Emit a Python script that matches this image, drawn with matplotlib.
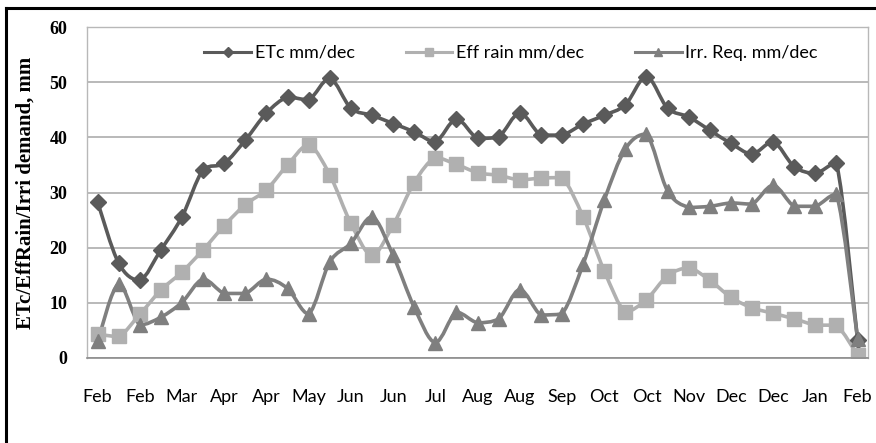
import matplotlib
matplotlib.use("Agg")
import matplotlib.pyplot as plt
from matplotlib.path import Path
from matplotlib.patches import PathPatch
from matplotlib.lines import Line2D

# decade labels, Feb (1st decade) to Feb of next year
months = ["Feb", "Feb", "Feb", "Mar", "Mar", "Mar", "Apr", "Apr", "Apr",
          "May", "May", "May", "Jun", "Jun", "Jun", "Jul", "Jul", "Jul",
          "Aug", "Aug", "Aug", "Sep", "Sep", "Sep", "Oct", "Oct", "Oct",
          "Nov", "Nov", "Nov", "Dec", "Dec", "Dec", "Jan", "Jan", "Jan", "Feb"]

etc = [28.3, 17.2, 14.1, 19.6, 25.6, 34.1, 35.3, 39.5, 44.4, 47.3,
       46.8, 50.7, 45.3, 44.0, 42.5, 41.0, 39.2, 43.3, 39.8, 40.1,
       44.4, 40.4, 40.4, 42.4, 44.0, 45.9, 51.0, 45.3, 43.7, 41.3,
       38.9, 37.0, 39.2, 34.7, 33.5, 35.3, 3.3]
eff_rain = [4.3, 3.9, 7.9, 12.3, 15.6, 19.6, 24.0, 27.8, 30.5, 35.0,
            38.6, 33.2, 24.4, 18.7, 24.1, 31.8, 36.3, 35.1, 33.6, 33.1,
            32.3, 32.6, 32.7, 25.6, 15.8, 8.4, 10.6, 14.9, 16.3, 14.1,
            11.0, 9.1, 8.1, 7.1, 6.0, 5.9, 0.5]
irr_req = [3.0, 13.4, 6.0, 7.4, 10.1, 14.3, 11.7, 11.7, 14.3, 12.6,
           8.0, 17.4, 20.8, 25.6, 18.6, 9.2, 2.8, 8.3, 6.4, 7.1,
           12.4, 7.8, 8.0, 17.0, 28.6, 37.9, 40.6, 30.3, 27.3, 27.5,
           28.1, 27.9, 31.3, 27.5, 27.5, 29.7, 3.5]


def smooth_path(x, y):
    # smoothed line like excel: bezier through every point,
    # control points kept inside the segment so it does not overshoot
    pts = list(zip(x, y))
    n = len(pts)
    verts = [pts[0]]
    codes = [Path.MOVETO]
    for i in range(n - 1):
        p0 = pts[i - 1] if i > 0 else pts[i]
        p1 = pts[i]
        p2 = pts[i + 1]
        p3 = pts[i + 2] if i + 2 < n else pts[i + 1]
        lo, hi = min(p1[1], p2[1]), max(p1[1], p2[1])
        c1y = min(max(p1[1] + (p2[1] - p0[1]) / 6, lo), hi)
        c2y = min(max(p2[1] - (p3[1] - p1[1]) / 6, lo), hi)
        c1 = (p1[0] + (p2[0] - p0[0]) / 6, c1y)
        c2 = (p2[0] - (p3[0] - p1[0]) / 6, c2y)
        verts += [c1, c2, p2]
        codes += [Path.CURVE4] * 3
    return Path(verts, codes)


sans = ["Lato", "Open Sans", "DejaVu Sans"]
serif = ["Liberation Serif", "DejaVu Serif"]

fig = plt.figure(figsize=(8.76, 4.43), dpi=100)
ax = fig.add_axes([0.0993, 0.1919, 0.8917, 0.7471])

x = list(range(len(months)))
series = [
    (etc, "ETc mm/dec", "#5a5a5a", "D", 8),
    (eff_rain, "Eff rain mm/dec", "#b0b0b0", "s", 10),
    (irr_req, "Irr. Req. mm/dec", "#7f7f7f", "^", 10),
]
handles = []
for vals, name, col, mk, ms in series:
    ax.add_patch(PathPatch(smooth_path(x, vals), facecolor="none",
                           edgecolor=col, lw=2.6, capstyle="round",
                           joinstyle="round"))
    ax.plot(x, vals, ls="none", marker=mk, ms=ms, color=col, mec=col)
    handles.append(Line2D([], [], color=col, lw=2.2, marker=mk,
                          ms=ms * 0.6, mec=col, label=name))

ax.set_xlim(-0.5, len(months) - 0.5)
ax.set_ylim(0, 60)
yt = list(range(0, 61, 10))
ax.set_yticks(yt)
ax.set_yticklabels([str(v) for v in yt], family=serif,
                   fontweight="bold", fontsize=13)
ax.set_xticks(x[::2])
ax.set_xticklabels(months[::2], family=sans, fontsize=13)
ax.tick_params(axis="both", length=0)
ax.tick_params(axis="y", pad=14)
ax.tick_params(axis="x", pad=22)

ax.grid(axis="y", color="#a6a6a6", lw=1.1)
ax.set_axisbelow(True)
for s in ["top", "right", "left"]:
    ax.spines[s].set_color("#b8b8b8")
    ax.spines[s].set_linewidth(1.0)
ax.spines["bottom"].set_color("#8c8c8c")
ax.spines["bottom"].set_linewidth(1.2)

ax.set_ylabel("ETc/EffRain/Irri demand, mm", family=serif,
              fontweight="bold", fontsize=15, labelpad=10)

ax.legend(handles=handles, ncol=3, loc="upper center",
          bbox_to_anchor=(0.543, 0.995), frameon=False,
          prop={"family": sans, "size": 13}, handlelength=2.6,
          handletextpad=0.2, columnspacing=2.8)

# outer frame of the picture (only top and left edge are visible)
fig.add_artist(Line2D([0.0068, 0.0068], [0.0, 0.982], color="black",
                      lw=2.2, transform=fig.transFigure))
fig.add_artist(Line2D([0.0068, 1.0], [0.982, 0.982], color="black",
                      lw=2.2, transform=fig.transFigure))

fig.savefig("out.png", dpi=100)
